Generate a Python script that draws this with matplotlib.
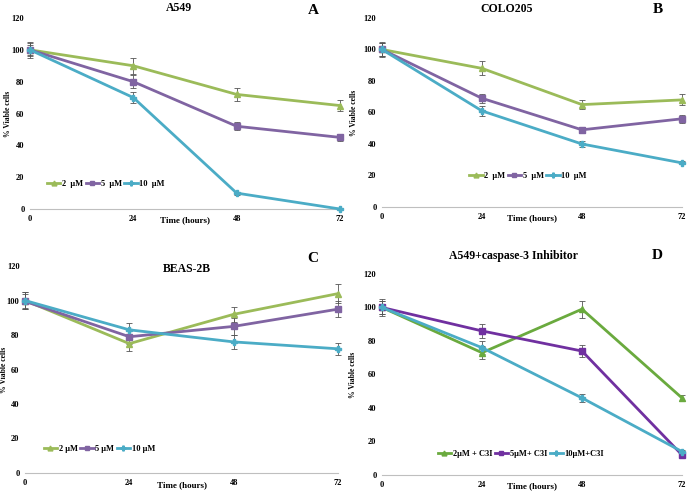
import matplotlib
matplotlib.use("Agg")
import matplotlib.pyplot as plt

plt.rcParams["font.family"] = ["Liberation Serif", "DejaVu Serif"]
plt.rcParams["font.weight"] = "bold"

hours = ["0", "24", "48", "72"]

# panel A: A549
a_2 = [100, 90, 72, 65]
a_5 = [100, 80, 52, 45]
a_10 = [100, 70, 10, 0]
a_2_err = [5, 5, 4, 3.5]
a_5_err = [3, 4, 2.5, 2]
a_10_err = [4, 3.5, 1, 0.5]
# panel B: COLO205
b_2 = [100, 88, 65, 68]
b_5 = [100, 69, 49, 56]
b_10 = [100, 61, 40, 28]
b_2_err = [5, 4.5, 3, 3.5]
b_5_err = [4, 3, 2, 2.5]
b_10_err = [4, 3, 2, 1]
# panel C: BEAS-2B
c_2 = [100, 75, 92, 104]
c_5 = [99.5, 79, 85, 95]
c_10 = [100, 83, 76, 72]
c_2_err = [5, 4, 4.5, 5.5]
c_5_err = [4, 4, 5, 4.5]
c_10_err = [5, 4, 4, 3.5]
# panel D: A549 + caspase-3 inhibitor
d_2 = [100, 73, 99, 46]
d_5 = [100, 86, 74, 12]
d_10 = [100, 76, 46, 14]
d_2_err = [5, 4, 5, 2]
d_5_err = [4, 4, 3.5, 1]
d_10_err = [4, 4, 2.5, 1]

labels_abc = ["2  \u00b5M", "5  \u00b5M", "10  \u00b5M"]
labels_c = ["2 \u00b5M", "5 \u00b5M", "10 \u00b5M"]
labels_d = ["2\u00b5M + C3I", "5\u00b5M+ C3I", "10\u00b5M+C3I"]

GREEN, PURPLE, CYAN = "#9BBB59", "#8064A2", "#4BACC6"
GREEN_D, PURPLE_D = "#6AAA3E", "#7030A0"
MARKERS = ["^", "s", "P"]

fig = plt.figure(figsize=(6.89, 4.91), dpi=100)

panels = [
    # rect, title pos, letter pos, ylabel x, series, errors, labels, colours, legend
    ([0.0435, 0.5743, 0.450, 0.389], "A549", (0.48, 1.052), "A", (0.913, 1.04), -0.058,
     [a_2, a_5, a_10], [a_2_err, a_5_err, a_10_err], labels_abc, [GREEN, PURPLE, CYAN],
     ("center left", (0.055, 0.13))),
    ([0.5544, 0.5784, 0.4354, 0.385], "COLO205", (0.417, 1.048), "B", (0.92, 1.045), -0.08,
     [b_2, b_5, b_10], [b_2_err, b_5_err, b_10_err], labels_abc, [GREEN, PURPLE, CYAN],
     ("center", (0.487, 0.164))),
    ([0.0363, 0.0367, 0.4543, 0.4215], "BEAS-2B", (0.518, 0.985), "C", (0.92, 1.035), -0.054,
     [c_2, c_5, c_10], [c_2_err, c_5_err, c_10_err], labels_c, [GREEN, PURPLE, CYAN],
     ("center left", (0.06, 0.116))),
    ([0.5544, 0.0326, 0.4354, 0.4094], "A549+caspase-3 Inhibitor", (0.44, 1.09), "D", (0.917, 1.09), -0.083,
     [d_2, d_5, d_10], [d_2_err, d_5_err, d_10_err], labels_d, [GREEN_D, PURPLE_D, CYAN],
     ("center", (0.463, 0.104))),
]

x = list(range(len(hours)))
for rect, title, tpos, letter, lpos, ylx, series, errs, labs, cols, (lloc, lanchor) in panels:
    ax = fig.add_axes(rect)
    for ys, es, lab, col, mk in zip(series, errs, labs, cols, MARKERS):
        ax.errorbar(x, ys, yerr=es, fmt="none", ecolor="#555555", elinewidth=0.6,
                    capsize=2, capthick=0.6, zorder=2, clip_on=False)
        ax.plot(x, ys, color=col, lw=2, marker=mk, ms=5, label=lab, zorder=3, clip_on=False)
    ax.set_xlim(0, 3)
    ax.set_ylim(0, 120)
    ax.set_yticks(range(0, 121, 20))
    ax.set_xticks(x)
    ax.set_xticklabels(hours)
    ax.tick_params(length=0, labelsize=6, pad=4)
    for s in ["top", "right", "left"]:
        ax.spines[s].set_visible(False)
    ax.spines["bottom"].set_color("#bfbfbf")
    ax.spines["bottom"].set_linewidth(0.8)
    ax.set_ylabel("% Viable cells", fontsize=5.5, fontweight="bold")
    ax.yaxis.set_label_coords(ylx, 0.5)
    ax.text(1.5, -4.5, "Time (hours)", fontsize=6.5, fontweight="bold", ha="center", va="top")
    ax.text(tpos[0], tpos[1], title, transform=ax.transAxes, fontsize=8.5, fontweight="bold",
            ha="center", va="center")
    ax.text(lpos[0], lpos[1], letter, transform=ax.transAxes, fontsize=11, fontweight="bold",
            ha="center", va="center")
    ax.legend(loc=lloc, bbox_to_anchor=lanchor, ncol=3, frameon=False, fontsize=6,
              handlelength=1.6, handletextpad=0.2, columnspacing=0.3, markerscale=0.7,
              borderpad=0, borderaxespad=0)

fig.savefig("out.png", dpi=100)
